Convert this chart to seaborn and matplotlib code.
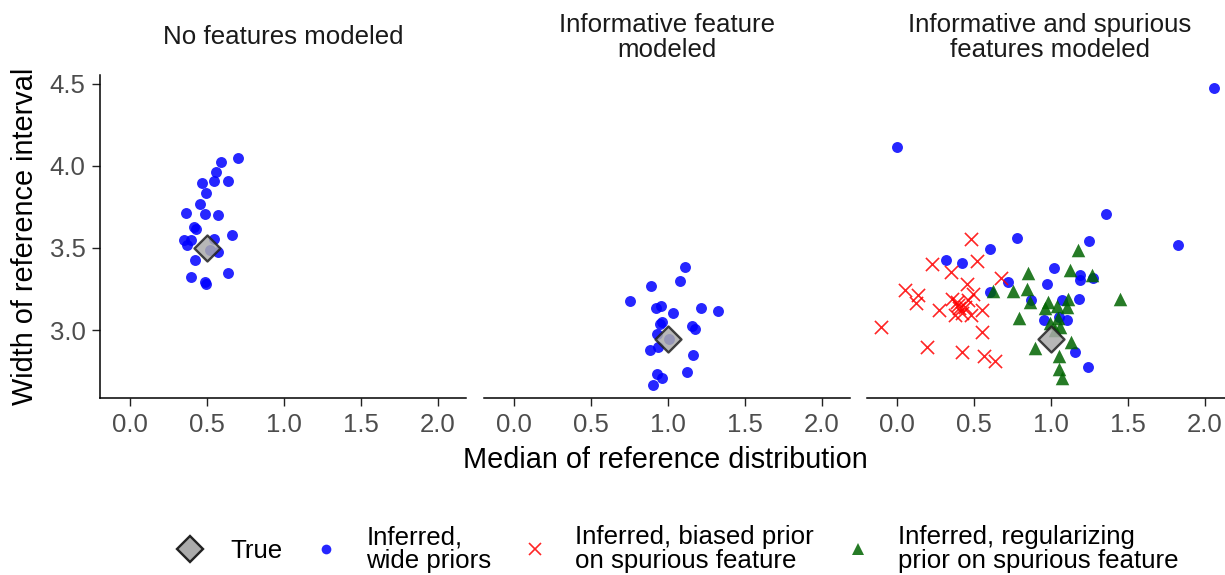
"""Reference-interval estimates under three modelling scenarios (faceted scatter)."""
import matplotlib
matplotlib.use("Agg")
import matplotlib.pyplot as plt
import numpy as np
import pandas as pd
import seaborn as sns
from matplotlib.lines import Line2D

PANELS = ["No features modeled", "Informative feature\nmodeled",
          "Informative and spurious\nfeatures modeled"]
TRUE_MEDIAN = [0.5, 1.0, 1.0]
TRUE_WIDTH = [3.5, 2.945, 2.945]

# panel 1: wide priors
p1_wide_x = [0.703, 0.589, 0.558, 0.543, 0.636, 0.465, 0.496, 0.455, 0.361, 0.489,
             0.569, 0.416, 0.429, 0.665, 0.349, 0.394, 0.372, 0.543, 0.574, 0.52,
             0.422, 0.398, 0.634, 0.489, 0.494]
p1_wide_y = [4.051, 4.026, 3.963, 3.910, 3.910, 3.894, 3.838, 3.766, 3.716, 3.709,
             3.699, 3.630, 3.618, 3.579, 3.549, 3.547, 3.516, 3.557, 3.474, 3.49,
             3.427, 3.323, 3.345, 3.293, 3.279]

# panel 2: wide priors
p2_wide_x = [1.112, 1.078, 0.890, 0.751, 0.924, 0.955, 1.035, 1.212, 1.323, 0.959,
             0.948, 1.156, 1.175, 0.926, 0.937, 0.883, 1.160, 1.126, 0.929, 0.963,
             0.900, 1.006]
p2_wide_y = [3.384, 3.299, 3.270, 3.175, 3.134, 3.148, 3.106, 3.134, 3.116, 3.051,
             3.034, 3.026, 3.008, 2.976, 2.894, 2.880, 2.848, 2.746, 2.730, 2.705,
             2.665, 2.945]

# panel 3: wide priors, biased prior, regularizing prior
p3_wide_x = [2.061, 0.0, 1.359, 1.827, 0.781, 1.247, 0.606, 0.320, 0.424, 1.019,
             1.190, 1.190, 1.275, 0.972, 0.723, 0.604, 0.868, 1.073, 1.182, 0.957,
             1.054, 1.102, 1.158, 1.238]
p3_wide_y = [4.474, 4.116, 3.709, 3.518, 3.561, 3.541, 3.492, 3.425, 3.408, 3.376,
             3.337, 3.307, 3.319, 3.282, 3.295, 3.234, 3.183, 3.183, 3.187, 3.061,
             3.081, 3.061, 2.864, 2.772]
p3_biased_x = [0.478, 0.227, 0.517, 0.351, 0.675, 0.457, 0.052, 0.138, 0.495, 0.125,
               0.357, 0.388, 0.271, 0.463, 0.550, 0.403, 0.377, 0.422, 0.481, -0.104,
               0.550, 0.193, 0.422, 0.567, 0.634, 0.395, 0.44]
p3_biased_y = [3.555, 3.402, 3.423, 3.356, 3.315, 3.279, 3.244, 3.211, 3.218, 3.163,
               3.187, 3.169, 3.124, 3.183, 3.120, 3.132, 3.093, 3.102, 3.091, 3.020,
               2.990, 2.894, 2.866, 2.841, 2.813, 3.15, 3.14]
p3_reg_x = [1.177, 0.849, 1.121, 1.266, 0.625, 0.751, 0.842, 0.864, 1.446, 0.979,
            1.108, 1.102, 0.961, 1.037, 0.790, 1.043, 1.058, 0.994, 1.130, 0.894,
            1.052, 1.054, 1.071, 1.026]
p3_reg_y = [3.488, 3.345, 3.366, 3.335, 3.238, 3.238, 3.248, 3.169, 3.189, 3.169,
            3.187, 3.138, 3.132, 3.146, 3.075, 3.071, 3.020, 3.041, 2.925, 2.890,
            2.841, 2.760, 2.709, 3.000]

FONT = ["Liberation Sans", "DejaVu Sans"]
TICK_GREY = "#4D4D4D"


def _frame() -> pd.DataFrame:
    parts = [
        (0, "wide", p1_wide_x, p1_wide_y),
        (1, "wide", p2_wide_x, p2_wide_y),
        (2, "wide", p3_wide_x, p3_wide_y),
        (2, "biased", p3_biased_x, p3_biased_y),
        (2, "regularizing", p3_reg_x, p3_reg_y),
    ]
    rows = []
    for panel, kind, xs, ys in parts:
        for x, y in zip(xs, ys):
            rows.append({"panel": panel, "kind": kind, "median": x, "width": y})
    return pd.DataFrame(rows)


STYLE = {
    "wide": dict(color="#0000FF", marker="o", s=62, alpha=0.85, linewidth=0),
    "biased": dict(color="#FF0000", marker="x", s=90, alpha=0.85, linewidth=1.2),
    "regularizing": dict(color="#006400", marker="^", s=95, alpha=0.85, linewidth=0),
}


def main() -> None:
    sns.set_theme(style="white")
    plt.rcParams["font.family"] = FONT

    df = _frame()
    fig = plt.figure(figsize=(12.25, 5.75), dpi=100)

    W, H = 1225.0, 575.0
    lefts = [100, 484, 867]
    pw = 366
    top_px, bot_px = 75, 398
    xlim = (-30 / 154, 336 / 154)
    ylim = (3.0 - (bot_px - 330) / 164, 3.0 + (330 - top_px) / 164)

    for i, left in enumerate(lefts):
        ax = fig.add_axes([left / W, (H - bot_px) / H, pw / W, (bot_px - top_px) / H])
        sub = df[df["panel"] == i]
        for kind in ["wide", "biased", "regularizing"]:
            d = sub[sub["kind"] == kind]
            if d.empty:
                continue
            sns.scatterplot(data=d, x="median", y="width", ax=ax, legend=False,
                            **STYLE[kind])
        sns.scatterplot(x=[TRUE_MEDIAN[i]], y=[TRUE_WIDTH[i]], ax=ax, marker="D",
                        s=175, color="#ABABAB", alpha=0.85, edgecolor="#222222",
                        linewidth=1.7, legend=False, zorder=5)
        ax.set_xlim(*xlim)
        ax.set_ylim(*ylim)
        ax.set_xticks([0.0, 0.5, 1.0, 1.5, 2.0])
        ax.set_xticklabels(["0.0", "0.5", "1.0", "1.5", "2.0"])
        ax.set_yticks([3.0, 3.5, 4.0, 4.5])
        ax.set_xlabel("")
        ax.set_ylabel("")
        for side in ["top", "right"]:
            ax.spines[side].set_visible(False)
        ax.spines["bottom"].set_color("black")
        ax.spines["bottom"].set_linewidth(1.1)
        ax.tick_params(axis="both", which="major", length=5.5, width=1.0,
                       color="#222222", labelcolor=TICK_GREY, labelsize=18.5, pad=5,
                       bottom=True, left=(i == 0))
        if i == 0:
            ax.spines["left"].set_color("black")
            ax.spines["left"].set_linewidth(1.1)
            ax.set_yticklabels(["3.0", "3.5", "4.0", "4.5"])
        else:
            ax.spines["left"].set_visible(False)
            ax.set_yticklabels([])
        fig.text((left + pw / 2) / W, 1 - 37.5 / H, PANELS[i], ha="center",
                 va="center", fontsize=18.6, color="#1A1A1A", linespacing=1.05)

    fig.text(665 / W, 1 - 460 / H, "Median of reference distribution",
             ha="center", va="center", fontsize=20.8, color="black")
    fig.text(25 / W, 1 - 236.5 / H, "Width of reference interval", ha="center",
             va="center", rotation=90, fontsize=20.8, color="black")

    handles = [
        Line2D([], [], linestyle="none", marker="D", markersize=13,
               markerfacecolor="#ABABAB", markeredgecolor="#222222",
               markeredgewidth=1.7),
        Line2D([], [], linestyle="none", marker="o", markersize=7,
               markerfacecolor="#0000FF", markeredgewidth=0, alpha=0.85),
        Line2D([], [], linestyle="none", marker="x", markersize=9,
               markeredgecolor="#FF0000", markeredgewidth=1.2, alpha=0.85),
        Line2D([], [], linestyle="none", marker="^", markersize=9,
               markerfacecolor="#006400", markeredgewidth=0, alpha=0.85),
    ]
    labels = ["True", "Inferred,\nwide priors", "Inferred, biased prior\non spurious feature",
              "Inferred, regularizing\nprior on spurious feature"]
    leg = fig.legend(handles, labels, loc="center",
                     bbox_to_anchor=(678 / W, 1 - 549 / H), ncol=4, frameon=False,
                     fontsize=18.6, handlelength=1.0, handletextpad=1.05,
                     columnspacing=1.2, labelspacing=0.2)
    for t in leg.get_texts():
        t.set_linespacing(0.98)
        t.set_color("black")

    fig.savefig("out.png", dpi=100)
    plt.close(fig)


if __name__ == "__main__":
    main()
